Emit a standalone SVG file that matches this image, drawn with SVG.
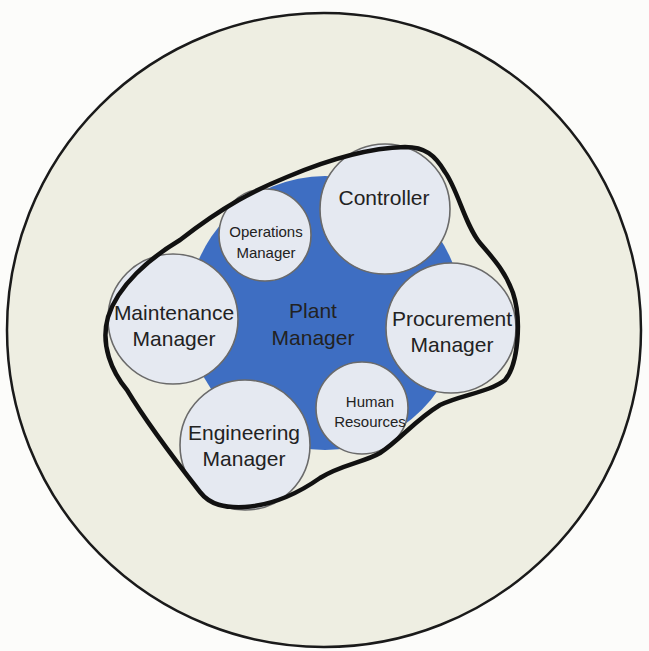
<svg xmlns="http://www.w3.org/2000/svg" width="649" height="651" viewBox="0 0 649 651">
<style>
.sub{fill:#e5e9f1;stroke:#6a6a6a;stroke-width:1.6}
.t{font-family:"Liberation Sans",Arial,sans-serif;fill:#222;text-anchor:middle}
.big{font-size:21px}
.sm{font-size:15px}
</style>
<rect width="649" height="651" fill="#fcfcfa"/>
<g id="outer">
<circle cx="324" cy="330" r="317" fill="#eeeee2" stroke="#1a1a1a" stroke-width="2.5"/>
</g>
<g id="plant-manager">
<circle cx="325" cy="313" r="137" fill="#3e6ec2"/>
<text class="t big" x="313" y="318">Plant</text>
<text class="t big" x="313" y="345">Manager</text>
</g>
<g id="controller">
<circle class="sub" cx="385" cy="209" r="65"/>
<text class="t big" x="384" y="205">Controller</text>
</g>
<g id="operations-manager">
<circle class="sub" cx="265" cy="235" r="46"/>
<text class="t sm" x="266" y="237">Operations</text>
<text class="t sm" x="266" y="258">Manager</text>
</g>
<g id="maintenance-manager">
<circle class="sub" cx="173" cy="319" r="65"/>
<text class="t big" x="174" y="320">Maintenance</text>
<text class="t big" x="174" y="346">Manager</text>
</g>
<g id="procurement-manager">
<circle class="sub" cx="451" cy="328" r="65"/>
<text class="t big" x="452" y="326">Procurement</text>
<text class="t big" x="452" y="352">Manager</text>
</g>
<g id="human-resources">
<circle class="sub" cx="362" cy="408" r="46"/>
<text class="t sm" x="370" y="407">Human</text>
<text class="t sm" x="370" y="427">Resources</text>
</g>
<g id="engineering-manager">
<circle class="sub" cx="245" cy="445" r="65"/>
<text class="t big" x="244" y="440">Engineering</text>
<text class="t big" x="244" y="466">Manager</text>
</g>
<g id="connectors">
<path d="M180,240 C150,258 118,285 108,317 C100,345 112,372 127,390 C145,420 175,460 200,492 C210,505 225,508 245,507 C275,505 300,492 320,478 C340,465 365,462 380,453 C400,440 415,420 440,405 C460,395 490,392 505,380 C518,365 522,320 513,293 C505,270 490,255 480,243 C465,225 458,190 445,172 C435,155 425,147 405,147 C365,148 320,163 287,177 C255,190 225,205 180,240 Z" fill="none" stroke="#111" stroke-width="4.5" stroke-linejoin="round"/>
</g>
</svg>
